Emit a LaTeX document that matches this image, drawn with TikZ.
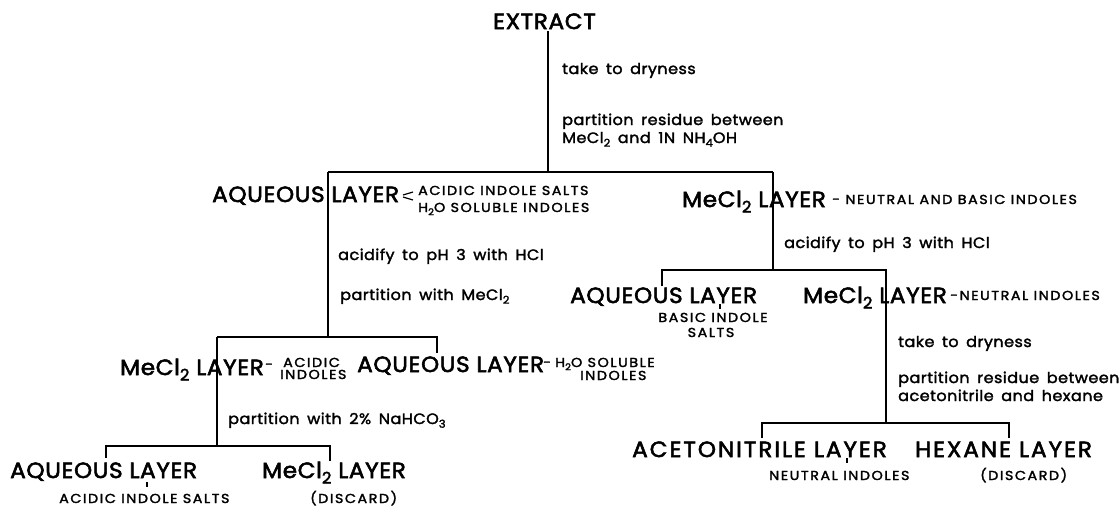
\documentclass[tikz,border=0pt]{standalone}
\usepackage{fontspec}
\setmainfont{Poppins}
\newfontfamily\fbig{Poppins}[FakeBold=2.5, FakeStretch=1.05, LetterSpace=3]
\newfontfamily\fbigw{Poppins}[FakeBold=2.5, FakeStretch=1.05, LetterSpace=9]
\newfontfamily\fsm{Poppins}[FakeBold=2, FakeStretch=1.1, LetterSpace=12]
\newfontfamily\fins{Poppins}[FakeBold=2, FakeStretch=1.07, LetterSpace=3, WordSpace=1.6]
\usepackage{graphicx}
\newcommand\dn[1]{\raisebox{-0.45ex}{\scalebox{0.72}{#1}}}
\tikzset{
 big/.style={anchor=base west, inner sep=0pt, font=\fbig\fontsize{22}{22}\selectfont},
 bigw/.style={anchor=base west, inner sep=0pt, font=\fbigw\fontsize{22}{22}\selectfont},
 sm/.style={anchor=base west, inner sep=0pt, font=\fsm\fontsize{13}{13}\selectfont},
 smc/.style={anchor=base, inner sep=0pt, font=\fsm\fontsize{13}{13}\selectfont},
 ins/.style={anchor=base west, inner sep=0pt, font=\fins\fontsize{15}{15}\selectfont},
 tree/.style={line width=2.2pt},
 tick/.style={line width=1.2pt},
}
\begin{document}
\begin{tikzpicture}[x=1pt,y=-1pt]
\useasboundingbox (0,0) rectangle (1120,507);
% texts
\node[big] (extract) at (493,29) {EXTRACT};
\node[ins] (i1) at (562,74) {take to dryness};
\node[ins] (i2) at (562,125) {partition residue between};
\node[ins] (i3) at (562,143) {MeCl\dn{2} and 1N NH\dn{4}OH};
\node[big] (aq1) at (212,202) {AQUEOUS LAYER};
\node[sm] (aq1a) at (418,195) {ACIDIC INDOLE SALTS};
\node[sm] (aq1b) at (418,212) {H\dn{2}O SOLUBLE INDOLES};
\node[big] (me1) at (682,207) {MeCl\dn{2} LAYER};
\node[sm] (me1a) at (832,204) {- NEUTRAL AND BASIC INDOLES};
\node[ins] (i4) at (338,260) {acidify to pH 3 with HCl};
\node[ins] (i5) at (340,300) {partition with MeCl\dn{2}};
\node[ins] (i6) at (784,248) {acidify to pH 3 with HCl};
\node[big] (aq2) at (570,303) {AQUEOUS LAYER};
\node[smc] (aq2a) at (713,322) {BASIC INDOLE};
\node[smc] (aq2b) at (711,337) {SALTS};
\node[big] (me2) at (803,303) {MeCl\dn{2} LAYER};
\node[sm] (me2a) at (950,300) {-NEUTRAL INDOLES};
\node[ins] (i7) at (898,347) {take to dryness};
\node[ins] (i8) at (898,383) {partition residue between};
\node[ins] (i9) at (898,401) {acetonitrile and hexane};
\node[big] (me3) at (120,375) {MeCl\dn{2} LAYER};
\node[sm] (me3d) at (265,369) {-};
\node[sm] (me3a) at (283,367) {ACIDIC};
\node[sm] (me3b) at (280,379) {INDOLES};
\node[big] (aq3) at (357,372) {AQUEOUS LAYER};
\node[sm] (aq3d) at (543,367) {-};
\node[sm] (aq3a) at (555,367) {H\dn{2}O SOLUBLE};
\node[sm] (aq3b) at (580,380) {INDOLES};
\node[ins] (i10) at (228,424) {partition with 2\% NaHCO\dn{3}};
\node[big] (aq4) at (10,478) {AQUEOUS LAYER};
\node[big] (me4) at (262,478) {MeCl\dn{2} LAYER};
\node[sm] (aq4a) at (59,503) {ACIDIC INDOLE SALTS};
\node[sm] (me4a) at (310,503) {(DISCARD)};
\node[bigw] (ac) at (632,457) {ACETONITRILE LAYER};
\node[bigw] (hx) at (915,457) {HEXANE LAYER};
\node[sm] (aca) at (769,480) {NEUTRAL INDOLES};
\node[sm] (hxa) at (980,480) {(DISCARD)};
% junctions
\coordinate (e0) at (548,31);
\coordinate (j1) at (548,172);
\coordinate (j1l) at (328,172);
\coordinate (j1r) at (773,172);
\coordinate (j2) at (328,337);
\coordinate (j2l) at (217,337);
\coordinate (j2r) at (437,337);
\coordinate (j2re) at (437,353);
\coordinate (j3) at (217,446);
\coordinate (j3l) at (106,446);
\coordinate (j3r) at (330,446);
\coordinate (j3le) at (106,458);
\coordinate (j3re) at (330,461);
\coordinate (k2) at (773,270);
\coordinate (k2l) at (662,270);
\coordinate (k2r) at (886,270);
\coordinate (k2le) at (662,286);
\coordinate (k3) at (886,423);
\coordinate (k3l) at (762,423);
\coordinate (k3r) at (1009,423);
\coordinate (k3le) at (762,438);
\coordinate (k3re) at (1009,438);
% tree lines
\draw[tree] (e0) -- (j1);
\draw[tree] (j1l) -- (j1r);
\draw[tree] (j1l) -- (j2);
\draw[tree] (j1r) -- (k2);
\draw[tree] (j2l) -- (j2r) -- (j2re);
\draw[tree] (j2l) -- (j3);
\draw[tree] (j3le) -- (j3l) -- (j3r) -- (j3re);
\draw[tree] (k2le) -- (k2l) -- (k2r) -- (k3);
\draw[tree] (k3le) -- (k3l) -- (k3r) -- (k3re);
% small marks
\draw[tick] (403,195) -- (413,192);
\draw[tick] (403,197) -- (413,200);
\draw[tick] (147,482) -- (147,487);
\draw[tick] (720,304) -- (720,309);
\draw[tick] (847,458) -- (847,463);
\end{tikzpicture}
\end{document}
